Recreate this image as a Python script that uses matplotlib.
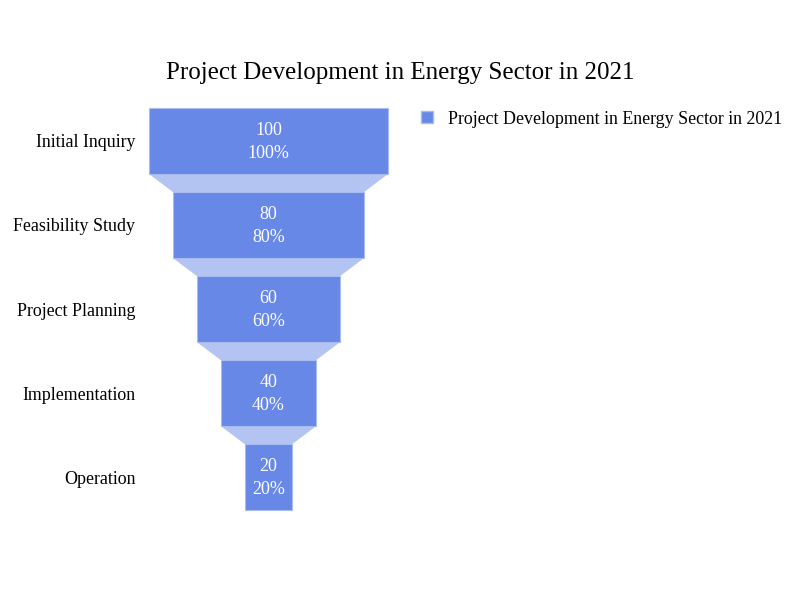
import matplotlib
matplotlib.use('Agg')
import matplotlib.pyplot as plt
from matplotlib.patches import Polygon, Patch

plt.rcParams['font.family'] = ['Liberation Serif', 'DejaVu Serif']

stages = ['Initial Inquiry', 'Feasibility Study', 'Project Planning', 'Implementation', 'Operation']
values = [100, 80, 60, 40, 20]
title = 'Project Development in Energy Sector in 2021'

bar_color = '#6788e6'
conn_color = '#b3c3f2'
edge_color = '#a9bcf0'
bar_h = 66 / 84

fig = plt.figure(figsize=(8, 6), dpi=100)
# axes placed in pixel terms: x 145..392, y 100..518 (from top)
ax = fig.add_axes([145 / 800, 1 - 518 / 600, 247 / 800, 418 / 600])

ys = list(range(len(stages)))
ax.barh(ys, values, left=[-v / 2 for v in values], height=bar_h,
        color=bar_color, edgecolor=edge_color, linewidth=0.8, zorder=2)

for i in range(len(values) - 1):
    a, b = values[i] / 2, values[i + 1] / 2
    y0 = ys[i] + bar_h / 2
    y1 = ys[i + 1] - bar_h / 2
    ax.add_patch(Polygon([(-a, y0), (a, y0), (b, y1), (-b, y1)],
                         closed=True, facecolor=conn_color, edgecolor='none', zorder=1))

for y, v in zip(ys, values):
    pct = v / values[0] * 100
    ax.text(0, y + 0.01, f'{v}\n{pct:.0f}%', ha='center', va='center', color='white',
            fontsize=13, linespacing=1.5, zorder=3)

ax.set_xlim(-51.67, 51.67)
ax.set_ylim(4.488, -0.488)
ax.set_yticks(ys)
ax.set_yticklabels(stages, fontsize=12.9)
ax.tick_params(axis='y', length=0, pad=7)
ax.set_xticks([])
for s in ax.spines.values():
    s.set_visible(False)

fig.text(0.5, 1 - 73 / 600, title, ha='center', va='center', fontsize=18)
fig.legend(handles=[Patch(facecolor=bar_color, edgecolor=edge_color, label=title)],
           loc='center left', bbox_to_anchor=(414 / 800, 1 - 119 / 600), frameon=False,
           fontsize=12.9, handlelength=0.65, handleheight=0.65, handletextpad=0.85,
           borderaxespad=0)

fig.savefig('out.png', dpi=100)
